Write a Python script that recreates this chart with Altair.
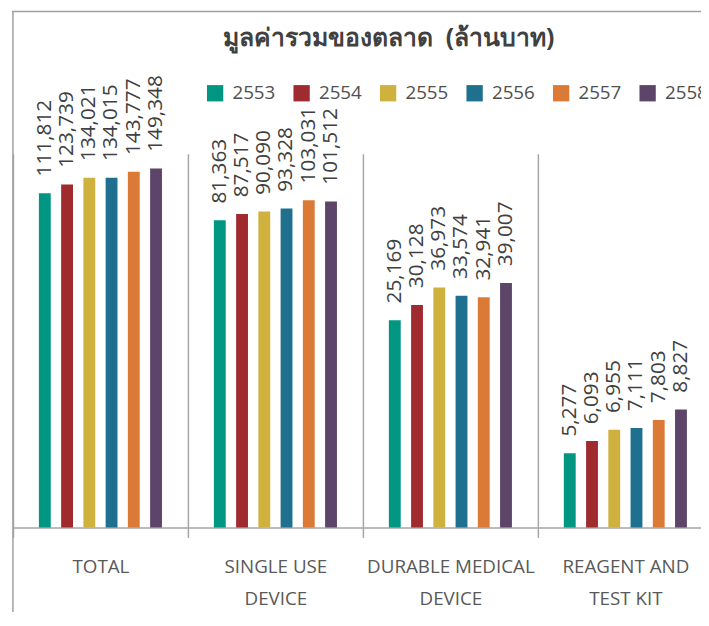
import altair as alt
import pandas as pd

categories = ["TOTAL", "SINGLE USE|DEVICE", "DURABLE MEDICAL|DEVICE", "REAGENT AND|TEST KIT"]
years = ["2553", "2554", "2555", "2556", "2557", "2558"]
colors = ["#009682", "#A02B2F", "#CFB13E", "#1F6F8F", "#DB7A37", "#5C4569"]

total = [111812, 123739, 134021, 134015, 143777, 149348]
single_use = [81363, 87517, 90090, 93328, 103031, 101512]
durable = [25169, 30128, 36973, 33574, 32941, 39007]
reagent = [5277, 6093, 6955, 7111, 7803, 8827]

title_text = "มูลค่ารวมของตลาด\u00a0\u00a0(ล้านบาท)"
y_min, y_max = 2210, 177600

series = [total, single_use, durable, reagent]
rows = []
for cat, vals in zip(categories, series):
    for yr, v in zip(years, vals):
        rows.append({"category": cat, "year": yr, "value": v})
df = pd.DataFrame(rows)

# offset slots: an empty slot on each side of the six years
offset_domain = ["_l"] + years + ["_r"]

x_enc = alt.X(
    "category:N",
    sort=categories,
    scale=alt.Scale(domain=categories, range=[0, 708], paddingInner=0, paddingOuter=0),
    axis=alt.Axis(
        title=None,
        labelExpr="split(datum.label, '|')",
        labelAngle=0,
        tickBand="extent",
        grid=True,
        gridColor="#A6A6A6",
        gridWidth=1.5,
        domainColor="#A6A6A6",
        domainWidth=1.5,
        tickColor="#A6A6A6",
        tickWidth=1.5,
        tickSize=10,
        labelFont="Open Sans",
        labelFontSize=19,
        labelColor="#595959",
        labelLineHeight=32,
        labelPadding=21,
        labelBaseline="top",
    ),
)
xo_enc = alt.XOffset("year:N",
                     scale=alt.Scale(domain=offset_domain, paddingInner=0.467, paddingOuter=0.167))
y_enc = alt.Y("value:Q", scale=alt.Scale(type="log", domain=[y_min, y_max], nice=False), axis=None)

bars = alt.Chart(df).mark_bar().encode(
    x=x_enc,
    xOffset=xo_enc,
    y=y_enc,
    y2=alt.Y2(datum=y_min),
    color=alt.Color(
        "year:N",
        sort=years,
        scale=alt.Scale(domain=years, range=colors),
        legend=alt.Legend(
            title=None,
            orient="none",
            legendX=195,
            legendY=-71,
            direction="horizontal",
            columns=6,
            symbolType="square",
            symbolSize=272,
            symbolStrokeWidth=0,
            symbolOpacity=1,
            labelFont="Open Sans",
            labelFontSize=19,
            labelColor="#505050",
            labelOffset=8,
            columnPadding=16.5,
        ),
    ),
)

labels = alt.Chart(df).mark_text(
    angle=270, align="left", baseline="middle", dx=17,
    font="Open Sans", fontSize=21, color="#404040",
).encode(
    x=alt.X("category:N", sort=categories),
    xOffset=alt.XOffset("year:N"),
    y=alt.Y("value:Q", axis=None),
    text=alt.Text("value:Q", format=","),
)

frame_df = pd.DataFrame({"k": [0]})
frame_top = alt.Chart(frame_df).mark_rule(color="#A0A0A0", strokeWidth=1.5).encode(
    x=alt.value(-1), x2=alt.value(700), y=alt.value(-144)
)
frame_left = alt.Chart(frame_df).mark_rule(color="#A0A0A0", strokeWidth=1.5).encode(
    x=alt.value(0), y=alt.value(-144), y2=alt.value(470)
)
title = alt.Chart(frame_df).mark_text(
    font="Noto Sans", fontSize=25, fontWeight="bold", color="#404040",
    align="center", baseline="middle",
).encode(
    x=alt.value(380), y=alt.value(-117), text=alt.value(title_text)
)

chart = alt.layer(bars, labels, frame_top, frame_left, title).properties(
    width=696,
    height=378,
    autosize=alt.AutoSizeParams(type="none"),
    padding={"left": 5, "top": 144, "right": 0, "bottom": 82},
).configure(background="white").configure_view(stroke="transparent", strokeWidth=0)

chart.save("out.html", embed_options={"renderer": "svg", "actions": False})
